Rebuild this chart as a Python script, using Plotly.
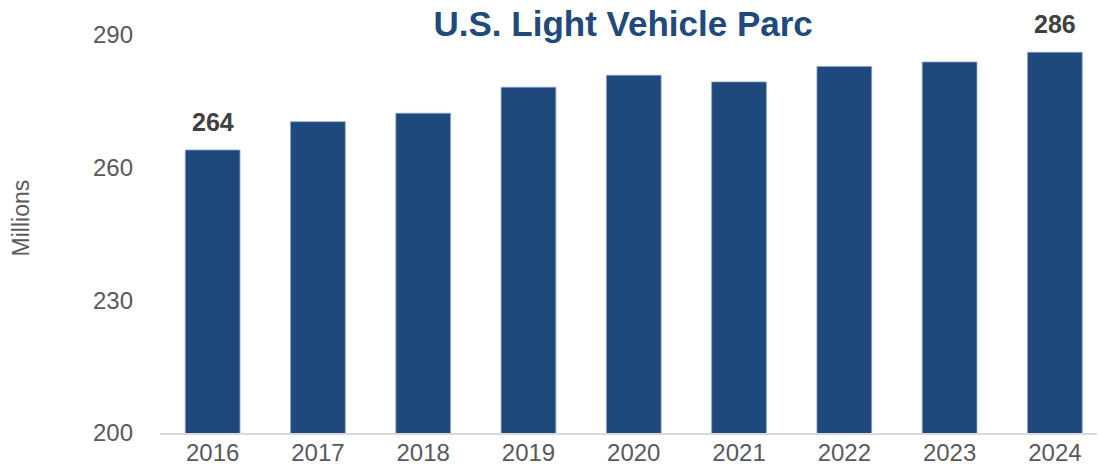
import plotly.graph_objects as go

years = ["2016", "2017", "2018", "2019", "2020", "2021", "2022", "2023", "2024"]
parc = [264.0, 270.4, 272.3, 278.2, 280.9, 279.4, 282.9, 283.9, 286.1]
labeled_years = ["2016", "2024"]
y_ticks = [200, 230, 260, 290]

BAR = "#1F497D"
TXT = "#595959"

fig = go.Figure()
fig.add_trace(go.Bar(
    x=years, y=parc,
    marker=dict(color=BAR, line=dict(color="#8DA6C4", width=0.8)),
    width=0.52,
))

for i, (yr, v) in enumerate(zip(years, parc)):
    if yr in labeled_years:
        fig.add_annotation(
            x=i, y=v, xref="x", yref="y", text=f"<b>{round(v)}</b>", showarrow=False,
            yanchor="bottom", yshift=12,
            font=dict(family="Liberation Sans, Arial", size=25, color="#404040"),
        )

fig.add_annotation(
    text="Millions", xref="paper", yref="paper", x=-0.148, y=0.54,
    xanchor="center", yanchor="middle", textangle=-90, showarrow=False,
    font=dict(family="Liberation Sans, Arial", size=23, color=TXT),
)

fig.update_layout(
    width=1099, height=466,
    margin=dict(l=160, r=2, t=35, b=33),
    paper_bgcolor="white", plot_bgcolor="white",
    showlegend=False,
    title=dict(
        text="<b>U.S. Light Vehicle Parc</b>",
        x=0.567, xanchor="center", y=0.95, yanchor="middle",
        font=dict(family="Liberation Sans, Arial", size=35, color="#204A7C"),
    ),
    font=dict(family="Liberation Sans, Arial", color=TXT),
)
fig.update_xaxes(
    type="category", range=[-0.5, 8.4], automargin=False,
    showline=True, linecolor="#D9D9D9", linewidth=2,
    showgrid=False, ticks="",
    tickfont=dict(size=24, color=TXT),
    ticklabelstandoff=-3,
)
fig.update_yaxes(
    range=[200, 290], tickvals=y_ticks, automargin=False,
    showgrid=False, showline=False, zeroline=False, ticks="",
    tickfont=dict(size=24, color=TXT),
    ticklabelstandoff=26,
)

fig.write_html(
    "out.html",
    config={"displayModeBar": False},
    post_script="document.body.style.margin='0';document.body.style.overflow='hidden';",
)
